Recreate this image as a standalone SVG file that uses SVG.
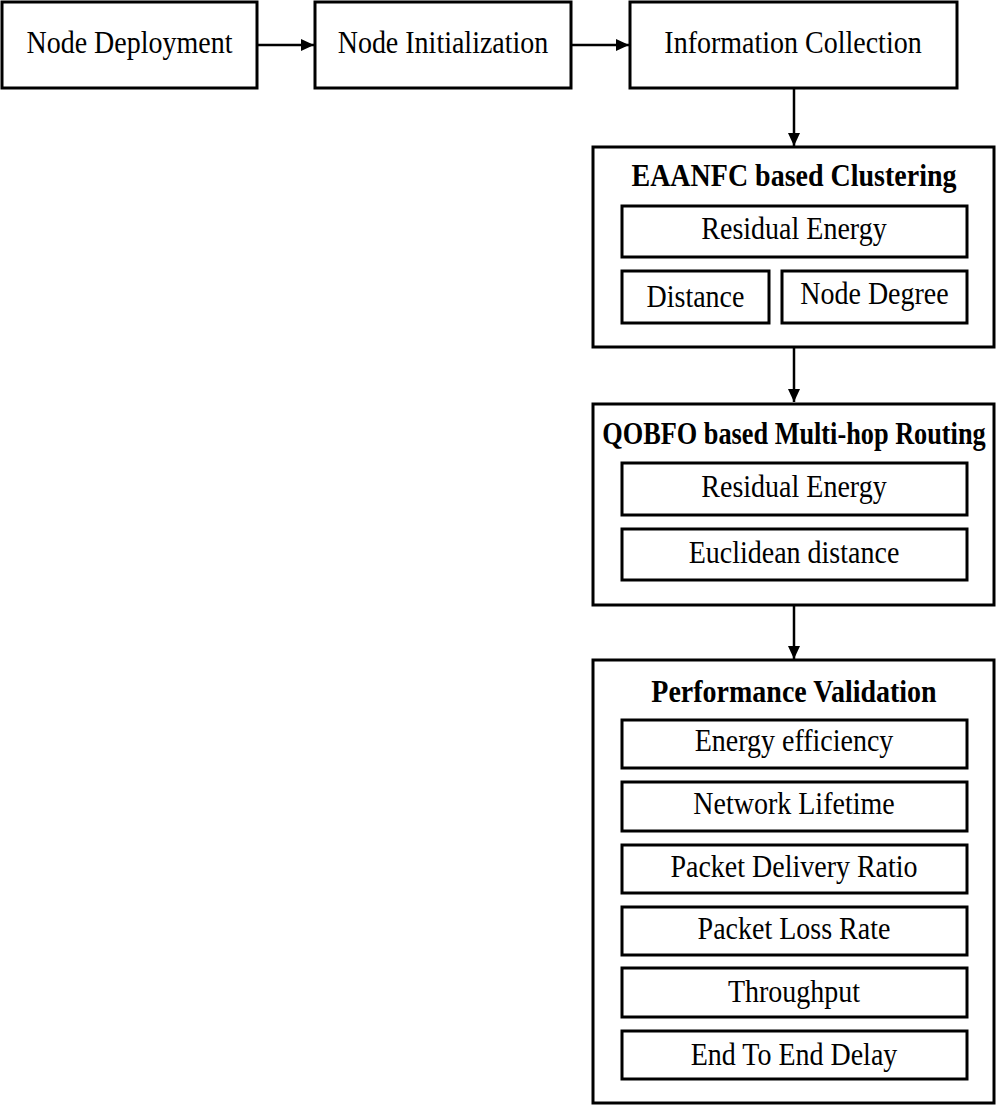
<svg xmlns="http://www.w3.org/2000/svg" width="996" height="1105" viewBox="0 0 996 1105">
<defs>
<marker id="ah" markerWidth="13" markerHeight="12" refX="13" refY="6" orient="auto" markerUnits="userSpaceOnUse">
<path d="M0,0 L13,6 L0,12 Z" fill="#000"/>
</marker>
<style>
rect{fill:#fff;stroke:#000;stroke-width:3}
text{font-family:"Liberation Serif","Times New Roman",serif;font-size:28px;fill:#000;text-anchor:middle;transform-box:fill-box;transform-origin:center;transform:scaleY(1.12)}
.b{font-weight:bold}
.s{font-size:26.3px;transform:scaleY(1.19)}
.c line{stroke:#000;stroke-width:2.5}
</style>
</defs>
<rect x="0" y="0" width="996" height="1105" style="stroke:none;fill:#fff"/>
<g class="c" id="connectors">
<line x1="258" y1="45" x2="314" y2="45" marker-end="url(#ah)"/>
<line x1="572" y1="45" x2="629" y2="45" marker-end="url(#ah)"/>
<line x1="794" y1="89" x2="794" y2="146" marker-end="url(#ah)"/>
<line x1="794" y1="348" x2="794" y2="402" marker-end="url(#ah)"/>
<line x1="794" y1="606" x2="794" y2="659" marker-end="url(#ah)"/>
</g>
<g id="node-deployment"><rect x="2" y="2" width="255" height="86"/><text x="129.5" y="52">Node Deployment</text></g>
<g id="node-initialization"><rect x="315" y="2" width="256" height="86"/><text x="443" y="52">Node Initialization</text></g>
<g id="information-collection"><rect x="630" y="2" width="327" height="86"/><text x="793" y="52">Information Collection</text></g>
<g id="clustering">
<rect x="593" y="147" width="401" height="200"/>
<text class="b" x="794" y="185">EAANFC based Clustering</text>
<rect x="622" y="206" width="345" height="51"/><text x="794" y="238">Residual Energy</text>
<rect x="622" y="271" width="147" height="52"/><text x="695.5" y="306">Distance</text>
<rect x="782" y="271" width="185" height="52"/><text x="874.5" y="303">Node Degree</text>
</g>
<g id="routing">
<rect x="593" y="404" width="401" height="201"/>
<text class="b s" x="794" y="442">QOBFO based Multi-hop Routing</text>
<rect x="622" y="463" width="345" height="52"/><text x="794" y="496">Residual Energy</text>
<rect x="622" y="529" width="345" height="51"/><text x="794" y="562">Euclidean distance</text>
</g>
<g id="performance">
<rect x="593" y="660" width="401" height="443"/>
<text class="b" x="794" y="701">Performance Validation</text>
<rect x="622" y="720" width="345" height="48"/><text x="794" y="750">Energy efficiency</text>
<rect x="622" y="782" width="345" height="49"/><text x="794" y="813">Network Lifetime</text>
<rect x="622" y="845" width="345" height="48"/><text x="794" y="876">Packet Delivery Ratio</text>
<rect x="622" y="907" width="345" height="48"/><text x="794" y="938">Packet Loss Rate</text>
<rect x="622" y="968" width="345" height="49"/><text x="794" y="1001">Throughput</text>
<rect x="622" y="1031" width="345" height="48"/><text x="794" y="1064">End To End Delay</text>
</g>
</svg>
